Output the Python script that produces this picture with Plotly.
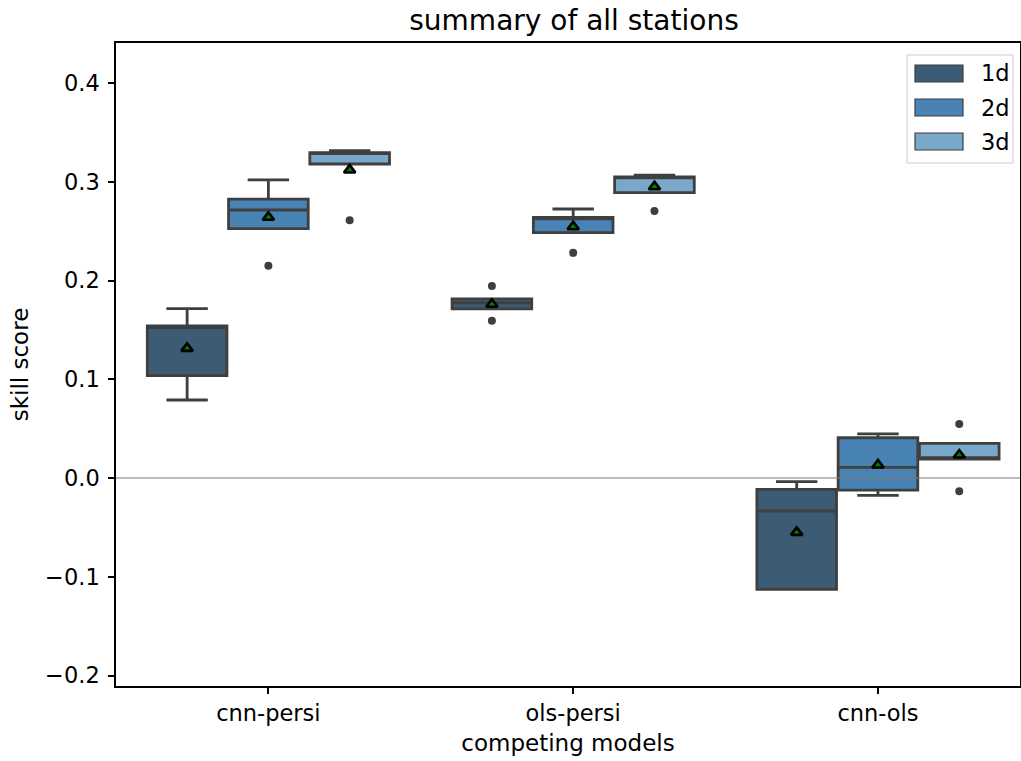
import plotly.graph_objects as go

categories = ["cnn-persi", "ols-persi", "cnn-ols"]
hues = ["1d", "2d", "3d"]

# box statistics per hue (one value per category)
q1_1d = [0.1036, 0.1712, -0.1127]
med_1d = [0.1522, 0.1775, -0.0334]
q3_1d = [0.1540, 0.1815, -0.0115]
lo_1d = [0.0790, 0.1712, -0.1127]
hi_1d = [0.1715, 0.1815, -0.0037]
mean_1d = [0.1313, 0.1759, -0.0550]

q1_2d = [0.2525, 0.2484, -0.0122]
med_2d = [0.2714, 0.2625, 0.0108]
q3_2d = [0.2825, 0.2640, 0.0408]
lo_2d = [0.2525, 0.2484, -0.0176]
hi_2d = [0.3020, 0.2724, 0.0446]
mean_2d = [0.2640, 0.2545, 0.0132]

q1_3d = [0.3180, 0.2890, 0.0192]
med_3d = [0.3285, 0.3040, 0.0205]
q3_3d = [0.3294, 0.3050, 0.0351]
lo_3d = [0.3180, 0.2890, 0.0192]
hi_3d = [0.3315, 0.3068, 0.0351]
mean_3d = [0.3119, 0.2950, 0.0233]

# outliers: category index and value
out_1d_cat = [1, 1]
out_1d_val = [0.1944, 0.1593]
out_2d_cat = [0, 1]
out_2d_val = [0.2150, 0.2280]
out_3d_cat = [0, 1, 2, 2]
out_3d_val = [0.2610, 0.2704, 0.0547, -0.0135]

colors = ["#3c5b74", "#4883b3", "#7aa8cb"]
edge = "#3f3f3f"
FONT = "DejaVu Sans"

W, H = 1021, 761
ML, MR, MT, MB = 116, 1, 43, 75
PW, PH = W - ML - MR, H - MT - MB


def px_x(p):
    return (p - ML) / PW


def px_y(p):
    return (H - MB - p) / PH


stats = [
    (q1_1d, med_1d, q3_1d, lo_1d, hi_1d, mean_1d, out_1d_cat, out_1d_val),
    (q1_2d, med_2d, q3_2d, lo_2d, hi_2d, mean_2d, out_2d_cat, out_2d_val),
    (q1_3d, med_3d, q3_3d, lo_3d, hi_3d, mean_3d, out_3d_cat, out_3d_val),
]

box_w = 0.8 / 3
offsets = [-box_w, 0.0, box_w]

fig = go.Figure()
for h, (q1, med, q3, lo, hi, mn, oc, ov) in enumerate(stats):
    xs = [i + offsets[h] for i in range(len(categories))]
    fig.add_trace(go.Box(
        x=xs, q1=q1, median=med, q3=q3, lowerfence=lo, upperfence=hi,
        name=hues[h], showlegend=False,
        width=box_w * 0.98, whiskerwidth=0.52,
        fillcolor=colors[h], line=dict(color=edge, width=2.8),
        boxpoints=False, hoverinfo="skip",
    ))
    fig.add_trace(go.Scatter(
        x=[c + offsets[h] for c in oc], y=ov, mode="markers",
        marker=dict(symbol="circle", size=8, color=edge),
        showlegend=False, hoverinfo="skip",
    ))
    fig.add_trace(go.Scatter(
        x=xs, y=mn, mode="markers",
        marker=dict(symbol="triangle-up", size=10, color="green",
                    line=dict(color="black", width=2.6)),
        showlegend=False, hoverinfo="skip",
    ))

fig.add_shape(type="line", xref="paper", x0=0, x1=1, yref="y", y0=0, y1=0,
              line=dict(color="#7a7a7a", width=1.2), layer="above")

# legend drawn as a framed key
fig.add_shape(type="rect", xref="paper", yref="paper",
              x0=px_x(907), x1=px_x(1013), y0=px_y(163), y1=px_y(55),
              line=dict(color="#cccccc", width=1), fillcolor="rgba(255,255,255,0.8)",
              layer="above")
for h, name in enumerate(hues):
    ytop = 65 + 34 * h
    fig.add_shape(type="rect", xref="paper", yref="paper",
                  x0=px_x(915), x1=px_x(963), y0=px_y(ytop + 17), y1=px_y(ytop),
                  line=dict(color=edge, width=1.2), fillcolor=colors[h], layer="above")
    fig.add_annotation(xref="paper", yref="paper", x=px_x(979), y=px_y(ytop + 8.5),
                       text=name, showarrow=False, xanchor="left", yanchor="middle",
                       font=dict(size=22.5, family=FONT, color="black"))

fig.update_layout(
    width=W, height=H,
    margin=dict(l=ML, r=MR, t=MT, b=MB),
    paper_bgcolor="white", plot_bgcolor="white",
    font=dict(family=FONT, size=22.5, color="black"),
    title=dict(text="summary of all stations", x=px_x(574), xref="paper",
               xanchor="center", y=1 - 20 / H, yref="container",
               yanchor="middle", font=dict(size=28, family=FONT, color="black")),
    showlegend=False,
    xaxis=dict(
        range=[-0.5, 2.466], tickmode="array", tickvals=[0, 1, 2], ticktext=categories,
        showline=True, linecolor="black", linewidth=1.5, mirror=True,
        ticks="outside", ticklen=6, tickwidth=1.5, tickcolor="black",
        showgrid=False, zeroline=False, automargin=False,
        tickfont=dict(size=22.5),
        title=dict(text="competing models", standoff=10, font=dict(size=23)),
    ),
    yaxis=dict(
        range=[-0.2106, 0.4405], tickmode="array",
        tickvals=[-0.2, -0.1, 0.0, 0.1, 0.2, 0.3, 0.4],
        ticktext=["\u22120.2", "\u22120.1", "0.0", "0.1", "0.2", "0.3", "0.4"],
        showline=True, linecolor="black", linewidth=1.5, mirror=True,
        ticks="outside", ticklen=6, tickwidth=1.5, tickcolor="black",
        showgrid=False, zeroline=False, automargin=False,
        tickfont=dict(size=22.5), ticklabelstandoff=4,
        title=dict(text="skill score", standoff=10, font=dict(size=23)),
    ),
)

fig.write_html("out.html", config={"displayModeBar": False},
               post_script="document.body.style.margin='0';")
